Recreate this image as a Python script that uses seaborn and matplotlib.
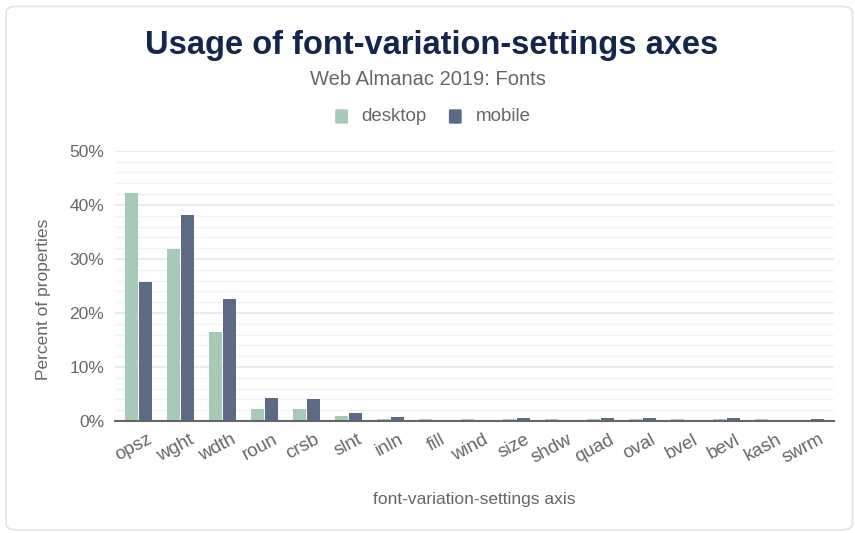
import pandas as pd
import matplotlib.pyplot as plt
import matplotlib.transforms as mtransforms
import seaborn as sns
from matplotlib.patches import FancyBboxPatch
from matplotlib.ticker import MultipleLocator, FuncFormatter

# values (percent of properties)
axes_names = ['opsz', 'wght', 'wdth', 'roun', 'crsb', 'slnt', 'inln', 'fill', 'wind',
              'size', 'shdw', 'quad', 'oval', 'bvel', 'bevl', 'kash', 'swrm']
desktop = [42.2, 31.8, 16.5, 2.2, 2.2, 1.0, 0.4, 0.3, 0.3, 0.3, 0.3, 0.3, 0.3, 0.3, 0.3, 0.3, 0.1]
mobile = [25.8, 38.1, 22.6, 4.2, 4.0, 1.5, 0.7, 0.0, 0.0, 0.6, 0.0, 0.6, 0.6, 0.0, 0.6, 0.0, 0.4]

df = pd.DataFrame({'axis': axes_names * 2,
                   'client': ['desktop'] * len(axes_names) + ['mobile'] * len(axes_names),
                   'value': desktop + mobile})

sns.set_style('white')
plt.rcParams['font.family'] = ['Liberation Sans', 'DejaVu Sans']

fig = plt.figure(figsize=(8.55, 5.33), dpi=100)
# card background
card = FancyBboxPatch((0.007, 0.006), 0.99, 0.982, boxstyle='round,pad=0,rounding_size=0.012',
                      transform=fig.transFigure, facecolor='white', edgecolor='#e4e4e4', lw=1.2,
                      zorder=-5)
fig.patches.append(card)

ax = fig.add_axes([0.135, 0.21, 0.84, 0.507])
ax.set_facecolor('none')
sns.barplot(data=df, x='axis', y='value', hue='client', palette=['#a7c9b8', '#5c6a86'],
            width=0.66, gap=0.1, ax=ax, legend=False, saturation=1, linewidth=0)

ax.set_ylim(0, 50)
ax.set_xlim(-0.55, len(axes_names) - 0.45)
ax.yaxis.set_major_locator(MultipleLocator(10))
ax.yaxis.set_minor_locator(MultipleLocator(2))
ax.yaxis.set_major_formatter(FuncFormatter(lambda v, p: f'{v:.0f}%'))
ax.grid(axis='y', which='major', color='#e8e8e8', lw=1.2)
ax.grid(axis='y', which='minor', color='#f3f3f3', lw=1)
ax.set_axisbelow(True)
for s in ['top', 'right', 'left']:
    ax.spines[s].set_visible(False)
ax.spines['bottom'].set_color('#666666')
ax.spines['bottom'].set_linewidth(1.5)

ax.tick_params(axis='y', which='major', length=5, color='#e0e0e0', labelsize=12.5,
               labelcolor='#666666', pad=3)
ax.tick_params(axis='y', which='minor', length=0)
ax.tick_params(axis='x', length=0, labelsize=13.5, labelcolor='#666666', pad=5)
shift = mtransforms.ScaledTranslation(0.08, -0.03, fig.dpi_scale_trans)
for lab in ax.get_xticklabels():
    lab.set_rotation(28)
    lab.set_ha('right')
    lab.set_rotation_mode('anchor')
    lab.set_transform(lab.get_transform() + shift)

ax.set_xlabel('font-variation-settings axis', fontsize=12.5, color='#666666', labelpad=18)
ax.set_ylabel('Percent of properties', fontsize=12.5, color='#666666')
ax.yaxis.set_label_coords(-0.09, 0.45)

fig.text(0.505, 0.915, 'Usage of font-variation-settings axes', ha='center', va='center',
         fontsize=23.5, fontweight='bold', color='#16264a')
fig.text(0.5, 0.85, 'Web Almanac 2019: Fonts', ha='center', va='center',
         fontsize=14.5, color='#666666')

# legend
for x0, name, col in [(0.392, 'desktop', '#a7c9b8'), (0.525, 'mobile', '#5c6a86')]:
    fig.patches.append(FancyBboxPatch((x0, 0.768), 0.015, 0.027, boxstyle='round,pad=0,rounding_size=0.002',
                                      transform=fig.transFigure, facecolor=col, edgecolor='none'))
    fig.text(x0 + 0.031, 0.781, name, ha='left', va='center', fontsize=13.5, color='#666666')

fig.savefig('out.png', dpi=100)
